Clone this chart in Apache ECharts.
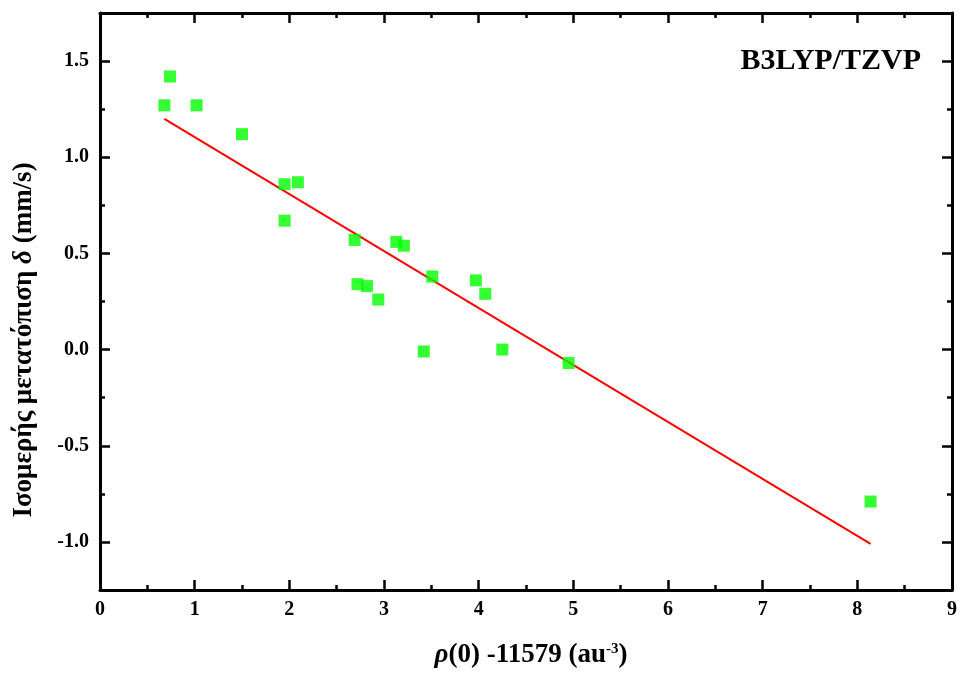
<!DOCTYPE html>
<html>
<head>
<meta charset="utf-8">
<script src="https://cdn.jsdelivr.net/npm/echarts@6/dist/echarts.min.js"></script>
<style>html,body{margin:0;padding:0;background:#fff}#c{width:960px;height:673px}</style>
</head>
<body>
<div id="c"></div>
<script>
// Data
const xValues = [0.74, 0.68, 1.02, 1.50, 1.95, 2.09, 1.95, 2.69, 3.13, 3.21, 2.72, 2.82, 2.94, 3.51, 3.97, 4.07, 3.42, 4.25, 4.95, 8.14];
const yValues = [1.42, 1.27, 1.27, 1.12, 0.86, 0.87, 0.67, 0.57, 0.56, 0.54, 0.34, 0.33, 0.26, 0.38, 0.36, 0.29, -0.01, 0.00, -0.07, -0.79];
const fitX = [0.68, 8.14];
const fitY = [1.20, -1.01];
const yMajorTicks = [-1.0, -0.5, 0.0, 0.5, 1.0, 1.5];
const yMinorTicks = [-0.75, -0.25, 0.25, 0.75, 1.25];
const methodLabel = 'B3LYP/TZVP';

const FONT = "'Liberation Serif', 'Times New Roman', serif";
const pts = xValues.map((x, i) => [x, yValues[i]]);
const fit = fitX.map((x, i) => [x, fitY[i]]);

const chart = echarts.init(document.getElementById('c'), null, {renderer: 'canvas'});
const axisLine = {show: true, onZero: false, lineStyle: {color: '#000', width: 3}};
const labelStyle = {color: '#000', fontFamily: FONT, fontWeight: 'bold', fontSize: 20};

function yAxisDef(pos, ticks, len, showLabel, showLine) {
  return {
    type: 'value', position: pos, min: -1.25, max: 1.75,
    axisLine: Object.assign({}, axisLine, {show: showLine}),
    splitLine: {show: false},
    axisTick: {show: true, inside: true, length: len, customValues: ticks, lineStyle: {color: '#000', width: 2.5}},
    axisLabel: Object.assign({show: showLabel, customValues: ticks, margin: 11, formatter: v => v.toFixed(1)}, labelStyle)
  };
}
function xAxisDef(pos, showLabel) {
  return {
    type: 'value', position: pos, min: 0, max: 9, interval: 1,
    axisLine: axisLine,
    splitLine: {show: false},
    axisTick: {show: true, inside: true, length: 10, lineStyle: {color: '#000', width: 2.5}},
    minorTick: {show: true, splitNumber: 2, length: 5, lineStyle: {color: '#000', width: 2.5}},
    axisLabel: Object.assign({show: showLabel, margin: 10}, labelStyle)
  };
}

chart.setOption({
  animation: false,
  backgroundColor: '#fff',
  grid: {left: 100, right: 8, top: 13, bottom: 83, containLabel: false},
  xAxis: [xAxisDef('bottom', true), xAxisDef('top', false)],
  yAxis: [
    yAxisDef('left', yMajorTicks, 10, true, true),
    yAxisDef('right', yMajorTicks, 10, false, true),
    yAxisDef('left', yMinorTicks, 5, false, false),
    yAxisDef('right', yMinorTicks, 5, false, false)
  ],
  series: [
    {type: 'line', data: fit, xAxisIndex: 0, yAxisIndex: 0, showSymbol: false, symbol: 'none',
     lineStyle: {color: '#ff0000', width: 2}, z: 2},
    {type: 'scatter', data: pts, xAxisIndex: 0, yAxisIndex: 0, symbol: 'rect', symbolSize: 12,
     itemStyle: {color: '#00ff00'}, z: 3}
  ],
  graphic: [
    {type: 'text', x: 921, y: 61, style: {text: methodLabel, fontFamily: FONT, fontWeight: 'bold', fontSize: 30, fill: '#000', align: 'right', verticalAlign: 'middle'}},
    {type: 'text', x: 531, y: 655, style: {
      text: '{i|ρ}(0) -11579 (au{s|-3})',
      fontFamily: FONT, fontWeight: 'bold', fontSize: 27, fill: '#000', align: 'center', verticalAlign: 'middle',
      rich: {
        i: {fontFamily: FONT, fontWeight: 'bold', fontStyle: 'italic', fontSize: 27, fill: '#000'},
        s: {fontFamily: FONT, fontWeight: 'bold', fontSize: 15, fill: '#000', verticalAlign: 'top', padding: [0, 0, 8, 0]}
      }
    }},
    {type: 'text', x: 24, y: 340, rotation: Math.PI / 2, style: {
      text: 'Ισομερής μετατόπιση {i|δ} (mm/s)',
      fontFamily: FONT, fontWeight: 'bold', fontSize: 27, fill: '#000', align: 'center', verticalAlign: 'middle',
      rich: {
        i: {fontFamily: FONT, fontWeight: 'bold', fontStyle: 'italic', fontSize: 27, fill: '#000'}
      }
    }}
  ]
});
</script>
</body>
</html>
